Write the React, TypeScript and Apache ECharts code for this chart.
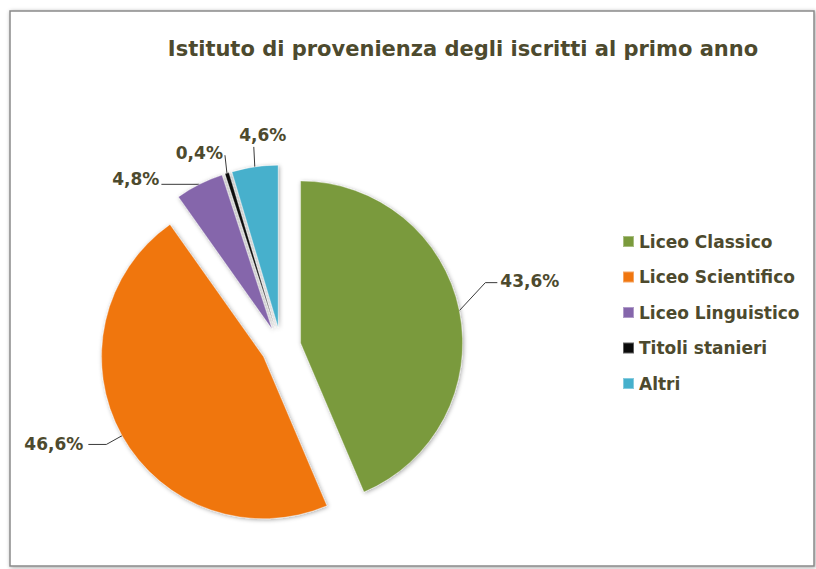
import React, { useEffect, useRef } from "react";
import * as echarts from "echarts";

const titleText = "Istituto di provenienza degli iscritti al primo anno";
const categories = ["Liceo Classico", "Liceo Scientifico", "Liceo Linguistico", "Titoli stanieri", "Altri"];
const values = [43.6, 46.6, 4.8, 0.4, 4.6];
const colors = ["#7a9a3c", "#f0760f", "#8566ab", "#0a0a0a", "#46b0cc"];

const textColor = "#4d4a2e";
const fontFamily = "'DejaVu Sans', sans-serif";

export default function App() {
  const ref = useRef<HTMLDivElement>(null);
  useEffect(() => {
    if (!ref.current) return;
    const chart = echarts.init(ref.current, null, { renderer: "svg" });
    const option = {
      animation: false,
      backgroundColor: "#ffffff",
      graphic: [
        {
          type: "rect",
          shape: { x: 10, y: 11, width: 804, height: 555 },
          style: {
            fill: "#ffffff",
            stroke: "#8a8a8a",
            lineWidth: 1.5,
            shadowBlur: 4,
            shadowColor: "rgba(0,0,0,0.35)",
            shadowOffsetX: 1,
            shadowOffsetY: 1,
          },
          z: -10,
        },
      ],
      title: {
        text: titleText,
        left: 458,
        top: 33,
        textAlign: "center",
        textStyle: { fontFamily, fontSize: 21, fontWeight: "bold", color: textColor },
      },
      legend: {
        orient: "vertical",
        left: 617,
        top: 228,
        itemWidth: 11,
        itemHeight: 11,
        itemGap: 18.5,
        icon: "rect",
        data: categories,
        textStyle: { fontFamily, fontSize: 17, fontWeight: "bold", color: textColor },
      },
      series: [
        {
          type: "pie",
          center: [281, 347],
          radius: [0, 162],
          startAngle: 90,
          clockwise: true,
          selectedMode: "multiple",
          selectedOffset: 20,
          avoidLabelOverlap: false,
          itemStyle: {
            borderColor: "rgba(255,255,255,0.35)",
            borderWidth: 1,
            shadowBlur: 4,
            shadowColor: "rgba(0,0,0,0.35)",
            shadowOffsetX: 1,
            shadowOffsetY: 1,
          },
          emphasis: { disabled: true },
          label: {
            show: true,
            position: "outside",
            fontFamily,
            fontSize: 17,
            fontWeight: "bold",
            color: textColor,
            formatter: (p: any) => p.value.toFixed(1).replace(".", ",") + "%",
          },
          labelLine: {
            show: true,
            length: 18,
            length2: 18,
            lineStyle: { color: "#3a3a3a", width: 1 },
          },
          labelLayout: (p: any) => {
            const pts = p.labelLinePoints;
            const lr = p.labelRect;
            if (!pts || !lr) return {};
            const s = pts[0];
            const cx = lr.x + lr.width / 2;
            const cy = lr.y + lr.height / 2;
            if (p.dataIndex === 0) {
              const b = [s[0] + 26, s[1] - 28];
              const e = [b[0] + 12, b[1]];
              return {
                dx: e[0] + 3 - lr.x,
                dy: e[1] - 2 - cy,
                labelLinePoints: [s, b, e],
              };
            }
            if (p.dataIndex === 4) {
              const e = [s[0] - 1, s[1] - 20];
              return {
                dx: s[0] + 8 - cx,
                dy: e[1] - 3 - (lr.y + lr.height),
                labelLinePoints: [s, e, e],
              };
            }
            if (p.dataIndex === 3) {
              const e = [s[0] - 2, s[1] - 18];
              return {
                dx: e[0] - 2 - (lr.x + lr.width),
                dy: e[1] - 2 - cy,
                labelLinePoints: [s, e, e],
              };
            }
            if (p.dataIndex === 2) {
              const e = [s[0] - 38, s[1]];
              return {
                dx: e[0] - 2 - (lr.x + lr.width),
                dy: e[1] - 5 - cy,
                labelLinePoints: [s, e, e],
              };
            }
            return {};
          },
          data: categories.map((name, i) => ({
            name,
            value: values[i],
            selected: true,
            itemStyle: { color: colors[i] },
          })),
        },
      ],
    };
    chart.setOption(option as any);
    return () => chart.dispose();
  }, []);
  return (
    <div
      ref={ref}
      style={{ position: "fixed", left: 0, top: 0, width: 816, height: 569 }}
    />
  );
}
